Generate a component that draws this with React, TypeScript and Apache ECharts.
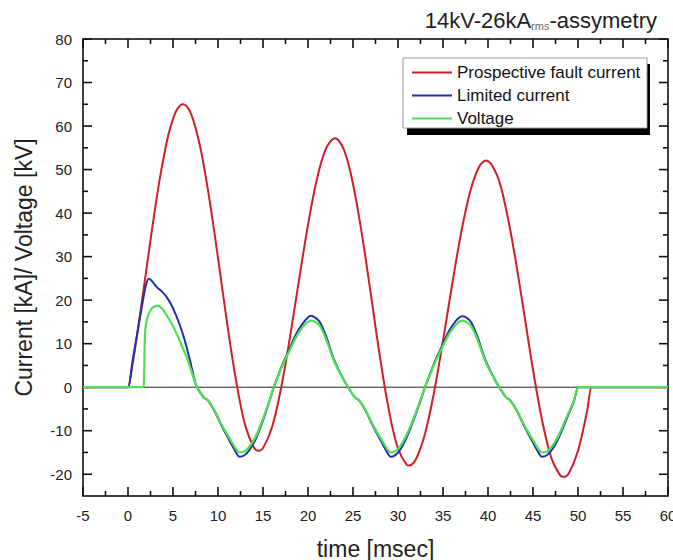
import React, { useEffect, useRef } from "react";
import * as echarts from "echarts";

const FONT = "'Liberation Sans', Arial, sans-serif";

const seriesNames = ["Prospective fault current", "Limited current", "Voltage"];

const xMajor = [-5, 0, 5, 10, 15, 20, 25, 30, 35, 40, 45, 50, 55, 60];
const xMinor = [-2.5, 2.5, 7.5, 12.5, 17.5, 22.5, 27.5, 32.5, 37.5, 42.5, 47.5, 52.5, 57.5];
const yMajor = [-20, -10, 0, 10, 20, 30, 40, 50, 60, 70, 80];
const yMinor = [-15, -5, 5, 15, 25, 35, 45, 55, 65, 75];

const zeroT = [-5, 60];
const zeroV = [0, 0];

const redT = [-5, -0.1, 0, 0.5, 1, 1.5, 2, 2.5, 3, 3.5, 4, 4.5, 5, 5.5, 6.1, 7, 8, 9, 10, 11, 12, 13, 14, 14.5, 15, 16, 17, 18, 19, 20, 21, 22, 23, 24, 25, 26, 27, 28, 29, 30, 31, 31.2, 32, 33, 34, 35, 36, 37, 38, 39, 39.8, 41, 42, 43, 44, 45, 46, 47, 48, 48.4, 49, 50, 51, 51.5, 51.6, 60];
const redV = [0, 0, 0, 5.2, 11.9, 19.1, 26.4, 33.8, 40.9, 47.5, 53.2, 58.1, 61.6, 64.0, 65, 62.8, 55.4, 43.8, 29.7, 14.9, 1.6, -8.6, -13.9, -14.6, -14.0, -9.2, -0.3, 11.5, 24.6, 37.3, 47.9, 54.8, 57.2, 54.5, 46.7, 35.0, 21.1, 6.9, -5.4, -14.1, -17.9, -18, -16.5, -10.7, -1.2, 10.7, 23.4, 35.3, 44.8, 50.6, 52.1, 48.7, 41.0, 30.0, 17.1, 4.0, -7.5, -16.0, -20.2, -20.6, -19.7, -14.6, -5.6, 0, 0, 0];

const blueT = [-5, -0.1, 0, 0.5, 1, 1.5, 1.9, 2.1, 2.3, 2.6, 3.2, 3.8, 4.3, 4.9, 5.4, 5.8, 6.2, 6.6, 6.9, 7.5, 7.8, 8.4, 8.9, 9.6, 10.5, 11.5, 12.0, 12.4, 12.9, 13.4, 14.1, 14.7, 15.2, 15.7, 16.2, 16.7, 17.2, 17.9, 18.4, 18.9, 19.4, 19.8, 20.3, 20.8, 21.3, 21.8, 22.2, 22.5, 23.0, 23.45, 24.0, 24.6, 25.2, 25.7, 26.4, 27.3, 28.3, 28.8, 29.2, 29.7, 30.2, 30.9, 31.5, 32.0, 32.5, 33.0, 33.5, 34.0, 34.7, 35.2, 35.7, 36.2, 36.6, 37.1, 37.6, 38.1, 38.6, 39.0, 39.3, 39.8, 40.25, 40.8, 41.4, 42.0, 42.5, 43.2, 44.1, 45.1, 45.6, 46.0, 46.5, 47.0, 47.7, 48.3, 48.8, 49.5, 50.07, 50.2, 60];
const blueV = [0, 0, 0, 6.0, 12.0, 18.0, 22.6, 24.2, 24.9, 24.5, 23.0, 21.9, 20.7, 18.6, 16.2, 14.0, 11.5, 8.5, 6.1, 0.8, -0.5, -2.3, -3.1, -5.4, -9.3, -13.1, -15.0, -16.0, -15.7, -14.7, -12.3, -9.3, -6.4, -3.3, 0, 2.7, 5.4, 8.6, 11.0, 13.0, 14.6, 15.6, 16.4, 16.0, 15.0, 12.8, 10.6, 8.6, 5.8, 3.8, 1.6, -0.5, -2.3, -3.1, -5.4, -9.3, -13.1, -15.0, -16.0, -15.6, -14.5, -11.8, -8.8, -6.0, -3.1, 0, 2.7, 5.4, 8.6, 11.0, 13.0, 14.6, 15.6, 16.3, 16.0, 15.0, 12.8, 10.6, 8.6, 5.8, 3.8, 1.6, -0.5, -2.3, -3.1, -5.4, -9.3, -13.1, -15.0, -16.0, -15.7, -14.7, -12.3, -9.5, -7.0, -3.5, 0, 0, 0];

const greenT = [-5, 1.6, 1.75, 1.9, 2.1, 2.4, 2.7, 3.0, 3.3, 3.8, 4.3, 4.9, 5.4, 6.0, 6.5, 7.0, 7.5, 7.8, 8.4, 8.9, 9.6, 10.5, 11.5, 12.0, 12.4, 12.9, 13.4, 14.1, 14.7, 15.2, 15.7, 16.2, 16.7, 17.2, 17.9, 18.4, 18.9, 19.4, 19.8, 20.3, 20.8, 21.3, 21.8, 22.2, 22.5, 23.0, 23.45, 24.0, 24.6, 25.2, 25.7, 26.4, 27.3, 28.3, 28.8, 29.2, 29.7, 30.2, 30.9, 31.5, 32.0, 32.5, 33.0, 33.5, 34.0, 34.7, 35.2, 35.7, 36.2, 36.6, 37.1, 37.6, 38.1, 38.6, 39.0, 39.3, 39.8, 40.25, 40.8, 41.4, 42.0, 42.5, 43.2, 44.1, 45.1, 45.6, 46.0, 46.5, 47.0, 47.7, 48.3, 48.8, 49.5, 50.07, 50.2, 60];
const greenV = [0, 0, 0.3, 12.5, 15.6, 17.3, 18.2, 18.6, 18.75, 18.0, 16.5, 14.4, 12.3, 9.4, 7.0, 4.0, 0.8, -0.5, -2.3, -3.1, -5.3, -9.0, -12.5, -14.2, -15.0, -14.8, -13.9, -11.7, -8.9, -6.1, -3.2, 0, 2.6, 5.2, 8.2, 10.4, 12.3, 13.8, 14.7, 15.3, 15.0, 14.1, 12.1, 10.0, 8.2, 5.5, 3.6, 1.5, -0.5, -2.3, -3.1, -5.3, -9.0, -12.5, -14.2, -15.0, -14.7, -13.7, -11.2, -8.4, -5.7, -2.9, 0, 2.6, 5.2, 8.2, 10.4, 12.3, 13.8, 14.7, 15.3, 15.0, 14.1, 12.1, 10.0, 8.2, 5.5, 3.6, 1.5, -0.5, -2.3, -3.1, -5.3, -9.0, -12.5, -14.2, -15.0, -14.8, -13.9, -11.7, -9.0, -6.6, -3.3, 0, 0, 0];

const pairs = (t: number[], v: number[]) => t.map((x, i) => [x, v[i]]);

const MAJOR_LEN = 9;
const MINOR_LEN = 5;

export default function App() {
  const ref = useRef<HTMLDivElement>(null);
  useEffect(() => {
    if (!ref.current) return;
    const chart = echarts.init(ref.current, null, { renderer: "svg" });

    // tick marks: [value, length, side] side 0 bottom, 1 top, 2 left, 3 right
    const tickData: number[][] = [];
    [0, 1].forEach((s) => {
      xMajor.forEach((v) => tickData.push([v, MAJOR_LEN, s]));
      xMinor.forEach((v) => tickData.push([v, MINOR_LEN, s]));
    });
    [2, 3].forEach((s) => {
      yMajor.forEach((v) => tickData.push([v, MAJOR_LEN, s]));
      yMinor.forEach((v) => tickData.push([v, MINOR_LEN, s]));
    });

    const line = (name: string, data: number[][], color: string, width: number) => ({
      name,
      type: "line",
      data,
      showSymbol: false,
      symbol: "none",
      smooth: 0.35,
      lineStyle: { color, width },
      itemStyle: { color },
      silent: true,
    });

    chart.setOption({
      animation: false,
      textStyle: { fontFamily: FONT },
      title: {
        text: "{a|14kV-26kA}{s|rms}{a|-assymetry}",
        right: 11,
        top: 4,
        textStyle: {
          fontWeight: "normal",
          rich: {
            a: { fontSize: 22, color: "#222", fontFamily: FONT, fontWeight: "normal" },
            s: { fontSize: 11, color: "#666", fontFamily: FONT, fontWeight: "normal", verticalAlign: "bottom" },
          },
        },
      },
      grid: {
        left: 83,
        top: 39,
        right: 5,
        bottom: 64,
        containLabel: false,
        outerBoundsMode: "none",
        show: true,
        borderColor: "#000",
        borderWidth: 1.5,
        backgroundColor: "transparent",
      },
      legend: {
        data: seriesNames,
        orient: "vertical",
        left: 407,
        top: 59,
        icon: "rect",
        itemWidth: 40,
        itemHeight: 2,
        itemGap: 6,
        textStyle: { fontSize: 17, color: "#111", fontFamily: FONT, lineHeight: 17 },
        z: 5,
      },
      graphic: [
        { type: "rect", z: 3, shape: { x: 407, y: 64, width: 243, height: 71 }, style: { fill: "#000" } },
        { type: "rect", z: 3, shape: { x: 403, y: 58, width: 244, height: 70 }, style: { fill: "#fff", stroke: "#999", lineWidth: 1 } },
      ],
      xAxis: {
        type: "value",
        min: -5,
        max: 60,
        interval: 5,
        position: "bottom",
        splitLine: { show: false },
        axisLine: { show: false, onZero: false },
        axisTick: { show: false },
        axisLabel: { fontSize: 15, color: "#222", margin: 12, fontFamily: FONT },
        name: "time [msec]",
        nameLocation: "middle",
        nameGap: 41,
        nameTextStyle: { fontSize: 23, color: "#222", fontFamily: FONT },
      },
      yAxis: {
        type: "value",
        min: -25,
        max: 80,
        interval: 5,
        position: "left",
        splitLine: { show: false },
        axisLine: { show: false, onZero: false },
        axisTick: { show: false },
        axisLabel: { customValues: yMajor, margin: 11, fontSize: 15, color: "#222", fontFamily: FONT },
        name: "Current [kA]/ Voltage [kV]",
        nameLocation: "middle",
        nameGap: 48,
        nameTextStyle: { fontSize: 23, color: "#222", fontFamily: FONT },
      },
      series: [
        {
          name: "ticks",
          type: "custom",
          data: tickData,
          dimensions: ["v", "len", "side"],
          encode: { x: 0, y: 1 },
          silent: true,
          clip: false,
          z: 1,
          renderItem: (params: any, api: any) => {
            const v = api.value(0);
            const len = api.value(1);
            const side = api.value(2);
            const cs = params.coordSys;
            if (side < 2) {
              const x = api.coord([v, 0])[0];
              const y = side === 0 ? cs.y + cs.height : cs.y;
              const d = side === 0 ? -len : len;
              return { type: "line", shape: { x1: x, y1: y, x2: x, y2: y + d }, style: { stroke: "#111", lineWidth: 1.6 } };
            }
            const y = api.coord([0, v])[1];
            const x = side === 2 ? cs.x : cs.x + cs.width;
            const d = side === 2 ? len : -len;
            return { type: "line", shape: { x1: x, y1: y, x2: x + d, y2: y }, style: { stroke: "#111", lineWidth: 1.6 } };
          },
        },
        {
          name: "zero",
          type: "line",
          data: pairs(zeroT, zeroV),
          showSymbol: false,
          symbol: "none",
          lineStyle: { color: "#222", width: 1 },
          silent: true,
        },
        line(seriesNames[0], pairs(redT, redV), "#d11f26", 2),
        line(seriesNames[1], pairs(blueT, blueV), "#2330b0", 2),
        line(seriesNames[2], pairs(greenT, greenV), "#4ee04e", 2.2),
      ],
    });
    return () => chart.dispose();
  }, []);
  return (
    <div
      ref={ref}
      style={{ position: "fixed", left: 0, top: 0, width: 673, height: 560, background: "#fff" }}
    />
  );
}
